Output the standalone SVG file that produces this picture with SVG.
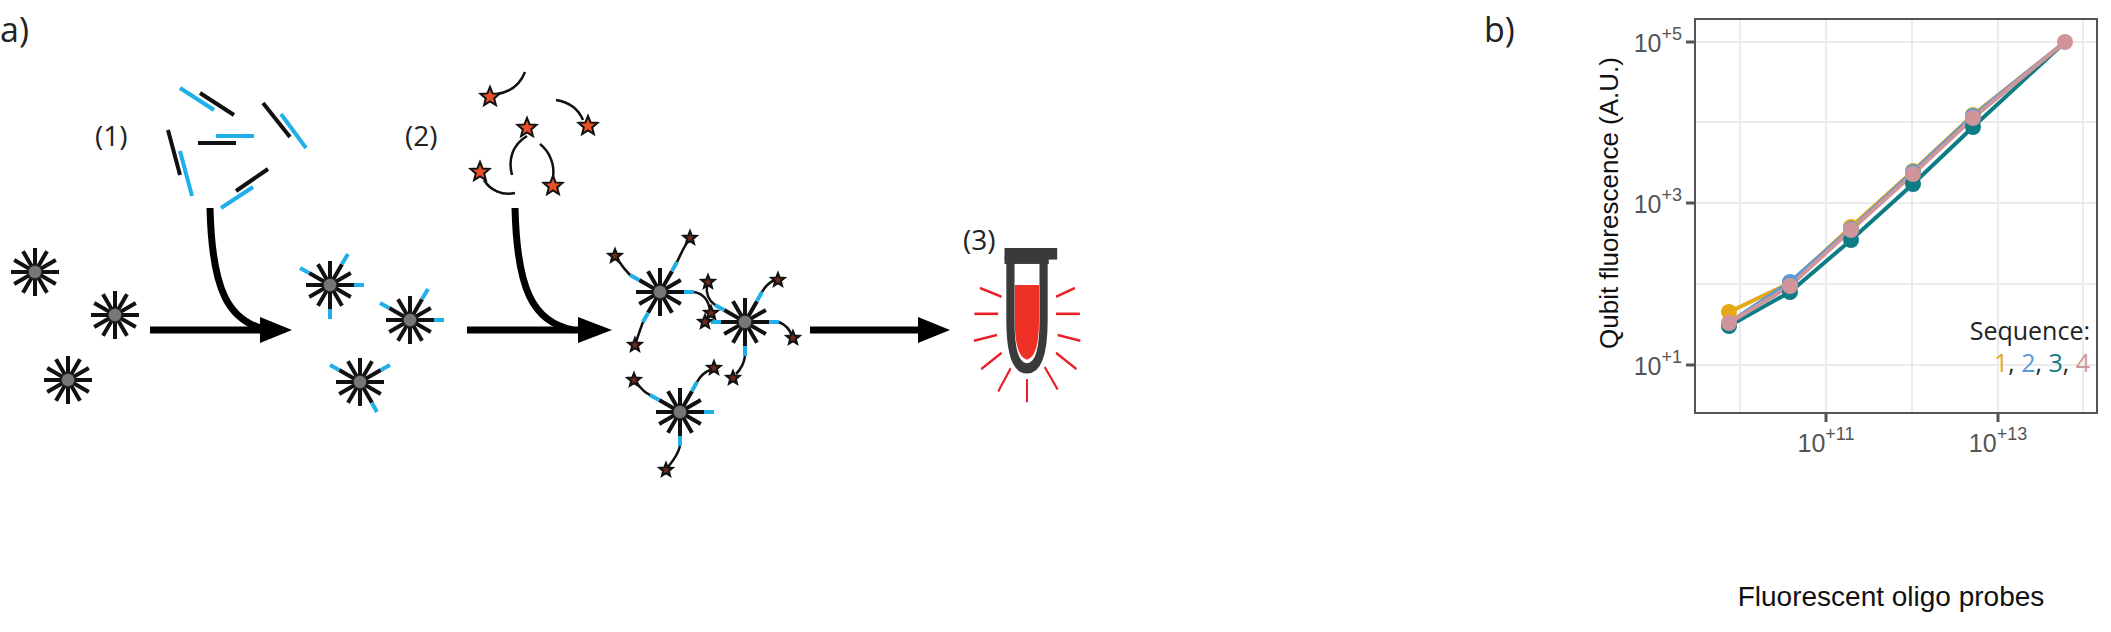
<svg xmlns="http://www.w3.org/2000/svg" xmlns:xlink="http://www.w3.org/1999/xlink" width="2111" height="632" viewBox="0 0 2111 632">
<style>
.lbl{font-family:"Open Sans","Liberation Sans",sans-serif;font-size:28px;fill:#222}
.ax{font-family:"Liberation Sans",Arial,sans-serif;font-size:25px;fill:#555}
.sp{stroke:#111;stroke-width:4}
.bl{stroke:#1fb0ea;stroke-width:4}
.ol{stroke-width:4;stroke-linecap:butt}
.arr{fill:none;stroke:#000;stroke-width:7}
.tail{fill:none;stroke:#111;stroke-width:2.5}
.ray{stroke:#e8202a;stroke-width:10}
.grid{stroke:#ebebeb;stroke-width:2}
</style>
<defs>
<g id="particle">
<line class="sp" x1="-24" y1="0" x2="24" y2="0"/>
<line class="sp" x1="0" y1="-24" x2="0" y2="24"/>
<line class="sp" x1="-20.8" y1="-12" x2="20.8" y2="12"/>
<line class="sp" x1="-20.8" y1="12" x2="20.8" y2="-12"/>
<line class="sp" x1="-12" y1="-20.8" x2="12" y2="20.8"/>
<line class="sp" x1="-12" y1="20.8" x2="12" y2="-20.8"/>
<circle r="7" fill="#777" stroke="#222" stroke-width="1.5"/>
</g>
<polygon id="star" points="0,-10 2.6,-3.6 9.5,-3.1 4.2,1.4 5.9,8.1 0,4.4 -5.9,8.1 -4.2,1.4 -9.5,-3.1 -2.6,-3.6" fill="#e8502a" stroke="#111" stroke-width="2"/>
<polygon id="sstar" points="0,-7 1.8,-2.5 6.7,-2.2 2.9,1 4.1,5.7 0,3.1 -4.1,5.7 -2.9,1 -6.7,-2.2 -1.8,-2.5" fill="#6b2a1a" stroke="#111" stroke-width="2"/>
</defs>
<text class="lbl" x="0" y="42" style="font-size:34px">a)</text>
<text class="lbl" x="1484" y="42" style="font-size:34px">b)</text>

<g id="step1-oligos">
<text class="lbl" x="95" y="146">(1)</text>
<line class="ol" stroke="#1fb0ea" x1="180" y1="88" x2="214" y2="110"/>
<line class="ol" stroke="#111" x1="200" y1="93" x2="234" y2="115"/>
<line class="ol" stroke="#111" x1="263" y1="103" x2="290" y2="137"/>
<line class="ol" stroke="#1fb0ea" x1="281" y1="114" x2="306" y2="148"/>
<line class="ol" stroke="#111" x1="198" y1="143" x2="236" y2="143"/>
<line class="ol" stroke="#1fb0ea" x1="216" y1="136" x2="254" y2="136"/>
<line class="ol" stroke="#111" x1="168" y1="130" x2="180" y2="175"/>
<line class="ol" stroke="#1fb0ea" x1="180" y1="151" x2="192" y2="196"/>
<line class="ol" stroke="#111" x1="268" y1="169" x2="236" y2="191"/>
<line class="ol" stroke="#1fb0ea" x1="253" y1="187" x2="221" y2="208"/>
</g>

<g id="step2-fluorophores">
<text class="lbl" x="405" y="146">(2)</text>
<path class="tail" d="M497,94 C510,92 520,85 525,72"/>
<use href="#star" x="490" y="97"/>
<path class="tail" d="M583,120 C578,108 568,102 556,100"/>
<use href="#star" x="588" y="126"/>
<path class="tail" d="M527,136 C512,145 508,160 512,175"/>
<use href="#star" x="527" y="128"/>
<path class="tail" d="M540,144 C550,152 555,165 553,178"/>
<use href="#star" x="553" y="186"/>
<path class="tail" d="M484,180 C490,190 502,196 515,193"/>
<use href="#star" x="480" y="172"/>
</g>

<g id="particles-bare">
<use href="#particle" x="35" y="272"/>
<use href="#particle" x="115" y="315"/>
<use href="#particle" x="68" y="380"/>
</g>

<g id="particles-probed">
<use href="#particle" x="330" y="285"/>
<line class="bl" x1="342" y1="264" x2="348" y2="254"/>
<line class="bl" x1="309" y1="273" x2="300" y2="268"/>
<line class="bl" x1="354" y1="285" x2="364" y2="285"/>
<line class="bl" x1="330" y1="309" x2="330" y2="319"/>
<use href="#particle" x="410" y="320"/>
<line class="bl" x1="422" y1="299" x2="428" y2="289"/>
<line class="bl" x1="389" y1="308" x2="380" y2="303"/>
<line class="bl" x1="434" y1="320" x2="444" y2="320"/>
<use href="#particle" x="360" y="382"/>
<line class="bl" x1="339" y1="370" x2="330" y2="365"/>
<line class="bl" x1="381" y1="370" x2="390" y2="365"/>
<line class="bl" x1="372" y1="403" x2="377" y2="412"/>
</g>

<g id="particles-labeled">
<use href="#particle" x="660" y="292"/>
<line class="bl" x1="672" y1="271" x2="677" y2="262"/>
<path class="tail" d="M677,262 C682,252 684,246 689,240"/>
<use href="#sstar" x="690" y="238"/>
<line class="bl" x1="639" y1="280" x2="630" y2="275"/>
<path class="tail" d="M630,275 C625,270 622,266 618,260"/>
<use href="#sstar" x="615" y="256"/>
<line class="bl" x1="684" y1="292" x2="694" y2="292"/>
<path class="tail" d="M694,292 C704,294 708,300 710,310"/>
<use href="#sstar" x="711" y="313"/>
<line class="bl" x1="648" y1="313" x2="643" y2="322"/>
<path class="tail" d="M643,322 C640,330 638,336 636,342"/>
<use href="#sstar" x="635" y="345"/>

<use href="#particle" x="745" y="322"/>
<line class="bl" x1="724" y1="310" x2="715" y2="305"/>
<path class="tail" d="M715,305 C708,300 706,292 707,285"/>
<use href="#sstar" x="708" y="282"/>
<line class="bl" x1="757" y1="301" x2="762" y2="292"/>
<path class="tail" d="M762,292 C766,285 770,282 775,280"/>
<use href="#sstar" x="778" y="280"/>
<line class="bl" x1="769" y1="322" x2="779" y2="322"/>
<path class="tail" d="M779,322 C786,325 790,330 792,336"/>
<use href="#sstar" x="793" y="338"/>
<line class="bl" x1="721" y1="322" x2="711" y2="322"/>
<use href="#sstar" x="705" y="322"/>
<line class="bl" x1="745" y1="346" x2="745" y2="356"/>
<path class="tail" d="M745,356 C744,364 740,370 736,374"/>
<use href="#sstar" x="733" y="378"/>

<use href="#particle" x="680" y="412"/>
<line class="bl" x1="659" y1="400" x2="650" y2="395"/>
<path class="tail" d="M650,395 C643,392 639,386 636,382"/>
<use href="#sstar" x="634" y="380"/>
<line class="bl" x1="692" y1="391" x2="697" y2="382"/>
<path class="tail" d="M697,382 C701,375 705,372 710,370"/>
<use href="#sstar" x="714" y="368"/>
<line class="bl" x1="704" y1="412" x2="714" y2="412"/>
<line class="bl" x1="680" y1="436" x2="680" y2="446"/>
<path class="tail" d="M680,446 C678,455 672,462 668,467"/>
<use href="#sstar" x="666" y="470"/>
</g>

<g id="tube" transform="translate(1027,248) scale(0.227,0.29) translate(-737,-830)">
<path d="M683,890 L790,890 L790,1080 Q790,1205 737,1215 Q683,1205 683,1080 Z" fill="#fff"/>
<path d="M683,958 L790,958 L790,1080 Q790,1205 737,1215 Q683,1205 683,1080 Z" fill="#ee3124"/>
<path d="M664,880 L664,1080 Q664,1245 737,1245 Q810,1245 810,1080 L810,880" fill="none" stroke="#3a3a3a" stroke-width="36"/>
<rect x="638" y="830" width="232" height="40" fill="#3a3a3a"/>
<rect x="638" y="860" width="195" height="25" fill="#3a3a3a"/>
<g stroke-width="9" stroke="#e8202a">
<line x1="530" y1="968" x2="625" y2="998"/>
<line x1="505" y1="1057" x2="610" y2="1057"/>
<line x1="503" y1="1150" x2="605" y2="1130"/>
<line x1="535" y1="1248" x2="625" y2="1192"/>
<line x1="610" y1="1325" x2="665" y2="1245"/>
<line x1="865" y1="998" x2="948" y2="968"/>
<line x1="865" y1="1057" x2="970" y2="1057"/>
<line x1="872" y1="1130" x2="972" y2="1150"/>
<line x1="865" y1="1192" x2="955" y2="1248"/>
<line x1="815" y1="1240" x2="872" y2="1318"/>
<line x1="737" y1="1282" x2="737" y2="1362"/>
</g>
</g>
<text class="lbl" x="963" y="250">(3)</text>

<g id="connectors">
<path class="arr" d="M210,208 C212,290 228,322 268,330"/>
<line class="arr" x1="150" y1="330" x2="265" y2="330"/>
<polygon points="260,317 292,330 260,343" fill="#000"/>
<path class="arr" d="M515,208 C517,290 533,322 573,330"/>
<line class="arr" x1="467" y1="330" x2="582" y2="330"/>
<polygon points="578,317 612,330 578,343" fill="#000"/>
<line class="arr" x1="810" y1="330" x2="922" y2="330"/>
<polygon points="918,317 950,330 918,343" fill="#000"/>
</g>

<g id="plot">
<rect x="1695" y="19" width="402" height="394" fill="#fff"/>
<line class="grid" x1="1740" y1="19" x2="1740" y2="413"/>
<line class="grid" x1="1826" y1="19" x2="1826" y2="413"/>
<line class="grid" x1="1912" y1="19" x2="1912" y2="413"/>
<line class="grid" x1="1998" y1="19" x2="1998" y2="413"/>
<line class="grid" x1="2083" y1="19" x2="2083" y2="413"/>
<line class="grid" x1="1695" y1="42" x2="2097" y2="42"/>
<line class="grid" x1="1695" y1="122" x2="2097" y2="122"/>
<line class="grid" x1="1695" y1="203" x2="2097" y2="203"/>
<line class="grid" x1="1695" y1="284" x2="2097" y2="284"/>
<line class="grid" x1="1695" y1="365" x2="2097" y2="365"/>
<rect x="1695" y="19" width="402" height="394" fill="none" stroke="#555" stroke-width="2"/>
<g stroke="#555" stroke-width="3">
<line x1="1686" y1="42" x2="1695" y2="42"/>
<line x1="1686" y1="203" x2="1695" y2="203"/>
<line x1="1686" y1="365" x2="1695" y2="365"/>
<line x1="1826" y1="413" x2="1826" y2="422"/>
<line x1="1998" y1="413" x2="1998" y2="422"/>
</g>
<text class="ax" x="1682" y="52" text-anchor="end">10<tspan dy="-12" font-size="18">+5</tspan></text>
<text class="ax" x="1682" y="213" text-anchor="end">10<tspan dy="-12" font-size="18">+3</tspan></text>
<text class="ax" x="1682" y="375" text-anchor="end">10<tspan dy="-12" font-size="18">+1</tspan></text>
<text class="ax" x="1826" y="452" text-anchor="middle">10<tspan dy="-12" font-size="18">+11</tspan></text>
<text class="ax" x="1998" y="452" text-anchor="middle">10<tspan dy="-12" font-size="18">+13</tspan></text>
<text class="ax" x="1891" y="606" text-anchor="middle" style="fill:#111;font-size:28px">Fluorescent oligo probes</text>
<text class="ax" transform="translate(1618,203) rotate(-90)" text-anchor="middle" style="fill:#111;font-size:26px">Qubit fluorescence (A.U.)</text>
<g fill="none" stroke-width="4">
<polyline stroke="#0e7c86" points="1729,326 1790,292 1851,240 1913,184 1973,127 2065,42"/>
<polyline stroke="#e6a817" points="1729,312 1790,283 1851,227 1913,171 1973,115 2065,42"/>
<polyline stroke="#5b9bd5" points="1729,323 1790,282 1851,229 1913,172 1973,116 2065,42"/>
<polyline stroke="#d0959b" points="1729,323 1790,286 1851,230 1913,174 1973,118 2065,42"/>
</g>
<g fill="#0e7c86"><circle cx="1729" cy="326" r="8"/><circle cx="1790" cy="292" r="8"/><circle cx="1851" cy="240" r="8"/><circle cx="1913" cy="184" r="8"/><circle cx="1973" cy="127" r="8"/></g>
<g fill="#e6a817"><circle cx="1729" cy="312" r="8"/><circle cx="1790" cy="283" r="8"/><circle cx="1851" cy="227" r="8"/><circle cx="1913" cy="171" r="8"/><circle cx="1973" cy="115" r="8"/></g>
<g fill="#5b9bd5"><circle cx="1790" cy="282" r="8"/><circle cx="1851" cy="229" r="8"/><circle cx="1913" cy="172" r="8"/><circle cx="1973" cy="116" r="8"/></g>
<g fill="#d0959b"><circle cx="1729" cy="323" r="8"/><circle cx="1790" cy="286" r="8"/><circle cx="1851" cy="230" r="8"/><circle cx="1913" cy="174" r="8"/><circle cx="1973" cy="118" r="8"/><circle cx="2065" cy="42" r="8"/></g>
<text class="lbl" x="2090" y="340" text-anchor="end" style="font-size:25px">Sequence:</text>
<text class="lbl" x="2090" y="372" text-anchor="end" style="font-size:25px"><tspan fill="#e6a817">1</tspan>, <tspan fill="#5b9bd5">2</tspan>, <tspan fill="#0e7c86">3</tspan>, <tspan fill="#d0959b">4</tspan></text>
</g>
</svg>
